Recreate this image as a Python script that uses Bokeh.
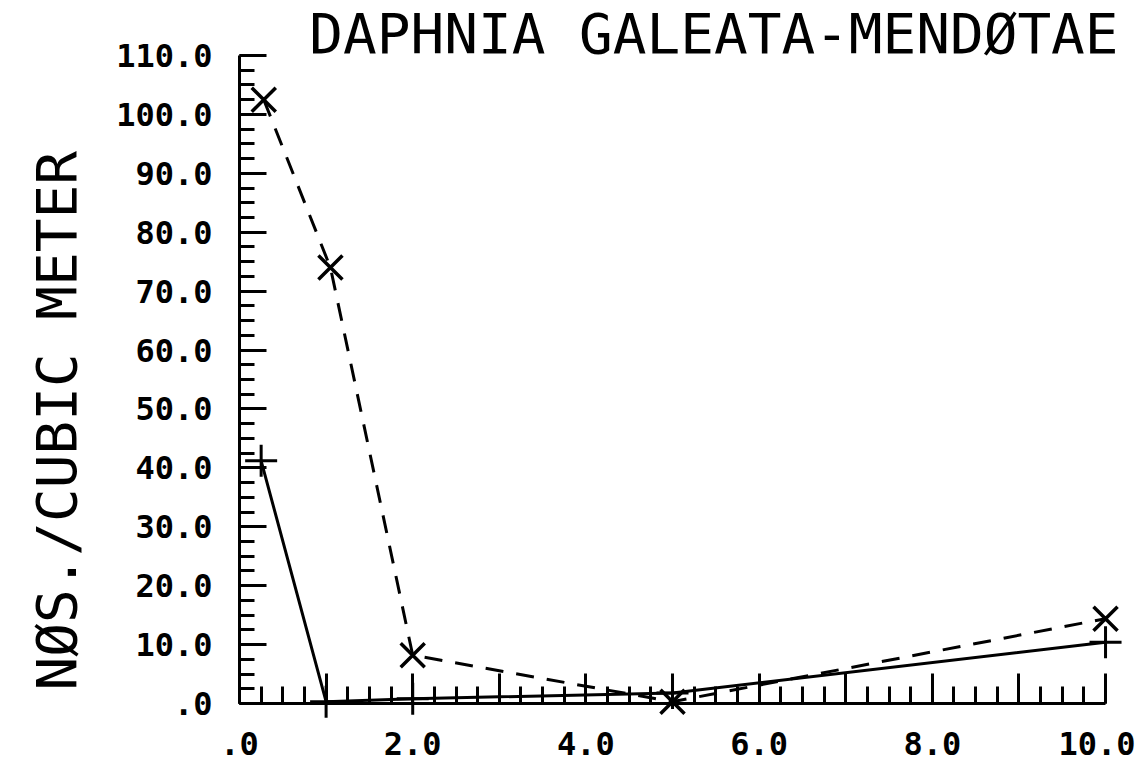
from bokeh.plotting import figure
from bokeh.models import Range1d, SingleIntervalTicker, CustomJSTickFormatter, Label, Title
from bokeh.embed import file_html
from bokeh.resources import INLINE

# ---- data ----
title_text = "DAPHNIA GALEATA-MENDØTAE"
y_label = "NØS./CUBIC METER"
x_dashed = [0.28, 1.05, 2.0, 5.0, 10.0]
y_dashed = [102.5, 74.0, 8.2, 0.3, 14.4]
x_solid = [0.25, 1.0, 2.0, 5.0, 10.0]
y_solid = [41.2, 0.3, 0.8, 1.8, 10.4]

FONT = "DejaVu Sans Mono"

p = figure(width=1135, height=771,
           x_range=Range1d(0, 10.346), y_range=Range1d(0, 117.64),
           output_backend="svg", toolbar_location=None,
           min_border_left=239, min_border_right=0,
           min_border_top=10, min_border_bottom=68)
p.outline_line_color = None
p.xgrid.visible = False
p.ygrid.visible = False
p.background_fill_color = "white"
p.border_fill_color = "white"

# x axis
xa = p.xaxis[0]
xa.ticker = SingleIntervalTicker(interval=1, num_minor_ticks=4)
xa.bounds = (0, 10)
xa.formatter = CustomJSTickFormatter(code="""
    const r = Math.round(tick);
    if (r % 2 !== 0) return "";
    let s = tick.toFixed(1);
    if (s.startsWith("0")) s = s.slice(1);
    return s;
""")
# y axis
ya = p.yaxis[0]
ya.ticker = SingleIntervalTicker(interval=10, num_minor_ticks=4)
ya.bounds = (0, 110)
ya.formatter = CustomJSTickFormatter(code="""
    let s = tick.toFixed(1);
    if (s.startsWith("0")) s = s.slice(1);
    return s;
""")

for ax in (xa, ya):
    ax.axis_line_width = 3
    ax.axis_line_color = "black"
    ax.major_tick_line_width = 3
    ax.minor_tick_line_width = 3
    ax.major_tick_line_color = "black"
    ax.minor_tick_line_color = "black"
    ax.major_tick_out = 0
    ax.minor_tick_out = 0
    ax.major_label_text_font = FONT
    ax.major_label_text_font_size = "32px"
    ax.major_label_text_font_style = "bold"
    ax.major_label_text_color = "black"

xa.major_tick_in = 30
xa.minor_tick_in = 17
xa.major_label_standoff = 28
ya.major_tick_in = 27
ya.minor_tick_in = 15
ya.major_label_standoff = 27

# series
r1 = p.line(x_dashed, y_dashed, line_color="black", line_width=3, line_dash="18 13")
r2 = p.scatter(x_dashed, y_dashed, marker="x", size=34, line_color="black", line_width=3.5)
r3 = p.line(x_solid, y_solid, line_color="black", line_width=3)
r4 = p.scatter(x_solid, y_solid, marker="cross", size=32, line_color="black", line_width=3)
for r in (r1, r2, r3, r4):
    r.level = "overlay"

# title
t = Label(x=10.15, y=113.7, text=title_text, text_align="right", text_baseline="alphabetic",
          text_font=FONT, text_font_size="56px", text_color="black")
p.add_layout(t)

# y-axis title, in the left panel, reading upward from near the bottom
yt = Title(text=y_label, align="left", offset=13, standoff=45, vertical_align="top",
           text_font=FONT, text_font_size="56px", text_font_style="normal",
           text_color="black")
p.add_layout(yt, "left")

open("out.html", "w").write(file_html(p, INLINE))
